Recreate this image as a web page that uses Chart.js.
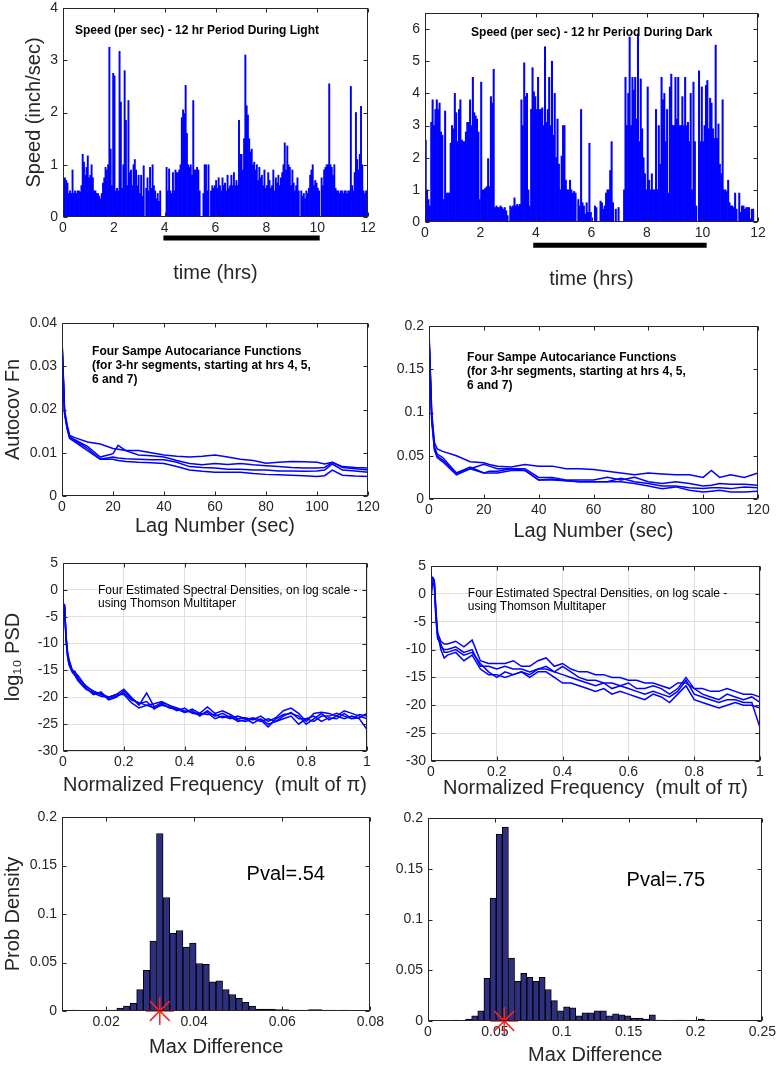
<!DOCTYPE html>
<html>
<head>
<meta charset="utf-8">
<script src="https://cdn.jsdelivr.net/npm/chart.js@4"></script>
<style>
    html, body { margin: 0; padding: 0; background: #fff; }
    body { width: 778px; height: 1066px; position: relative; overflow: hidden; }
    canvas { position: absolute; }
</style>
</head>
<body>
<canvas id="c1"></canvas>
<canvas id="c2"></canvas>
<canvas id="c3"></canvas>
<canvas id="c4"></canvas>
<canvas id="c5"></canvas>
<canvas id="c6"></canvas>
<canvas id="c7"></canvas>
<canvas id="c8"></canvas>
<script>
(function () {
    'use strict';

    // speed per 0.05 hr slot, 12 hr period
    const speedStep = 0.05;
    const speedLight = [
        0.2, 0.75, 0.7, 0.65, 0.45, 0.5, 0.45, 0.9, 0.45, 0.5, 0.45, 0.5, 0.5, 0.48, 0.6, 1.2, 1.05, 0.8, 0.95, 1.17,
        0.75, 0.8, 1.0, 0.75, 0.5, 0.5, 0.45, 0.45, 0.4, 0.35, 0.45, 0.65, 0.75, 0.95, 0.9, 1.0, 3.25, 1.3, 0.6, 2.75,
        2.7, 0.5, 0.55, 0.5, 3.17, 2.2, 0.55, 1.0, 2.8, 1.85, 0.6, 2.23, 0.85, 0.9, 0.6, 1.0, 1.1, 0.9, 0.6, 0.8,
        0.45, 0.8, 0.4, 0.98, 0, 0.55, 0.75, 0.5, 0.95, 0.55, 1.0, 0.6, 0.5, 0.35, 0.45, 0.3, 0.5, 0, 0, 0,
        0, 0.95, 0.5, 0.92, 0.5, 0.45, 0.85, 0.5, 0.9, 0.85, 0.85, 0.9, 1.0, 1.9, 2.05, 1.98, 2.52, 1.6, 1.0, 0.95,
        1.0, 0.8, 2.23, 0.9, 0.9, 0.95, 0.9, 0.5, 0, 0, 0.45, 1.0, 1.0, 0.5, 1.0, 0, 0.5, 0.6, 0.55, 0.6,
        0.7, 0.55, 0.75, 0.6, 0.5, 0.75, 0.6, 0.65, 0.5, 0.8, 0.55, 0.6, 0.8, 0.6, 0.85, 0.6, 0.7, 0.6, 1.85, 1.2,
        1.2, 0.9, 1.5, 3.1, 2.13, 1.95, 1.5, 1.25, 1.3, 1.0, 1.05, 0.9, 1.0, 0.7, 0.95, 0.75, 0.8, 0.6, 0.9, 0.55,
        0.6, 0.85, 0.7, 0.55, 0.6, 0.9, 0.5, 0.75, 0.65, 0.8, 0.6, 0.75, 0.85, 1.0, 1.42, 0.9, 1.36, 1.0, 0.95, 0.6,
        0.9, 0.65, 0.5, 0.6, 0.75, 0.5, 0, 0.5, 0.4, 0.45, 0.35, 0.5, 0.45, 0.55, 0.8, 0.9, 1.0, 0.6, 0.7, 0.65,
        0.55, 0.5, 0, 0.75, 0.6, 0.9, 0.95, 1.0, 1.0, 2.55, 1.0, 0.95, 0.8, 1.0, 0.55, 0.5, 0.5, 0.45, 0.5, 0.5,
        0.45, 0.5, 0.5, 0.45, 0.5, 0.5, 2.5, 0.6, 0.5, 0.85, 2.0, 1.1, 0.9, 1.2, 2.12, 1.0, 0.5, 0.45, 0.5, 0.5,
    ];
    const speedDark = [
        2.55, 1.0, 0.7, 0.5, 3.1, 3.8, 3.0, 3.5, 3.8, 3.5, 3.7, 2.8, 2.7, 0.7, 3.45, 0.9, 0.9, 0.9, 2.45, 3.0,
        2.9, 4.0, 3.4, 2.5, 3.5, 3.8, 2.55, 2.5, 2.5, 2.8, 3.1, 3.1, 3.8, 3.0, 4.5, 3.4, 3.3, 3.2, 2.8, 0.7,
        4.35, 1.0, 1.0, 1.05, 1.1, 1.97, 1.1, 3.9, 3.7, 4.75, 0.45, 0.5, 0.45, 0.45, 0.5, 0.45, 0.4, 0.45, 0.35, 0.2,
        0, 0.5, 0.45, 0.5, 0.75, 0.5, 0.55, 0.5, 0.55, 3.8, 3.0, 4.95, 3.9, 4.0, 1.0, 0.5, 3.5, 4.8, 4.05, 3.9,
        3.5, 4.5, 3.5, 3.5, 3.55, 3.0, 5.45, 3.1, 3.5, 4.5, 3.0, 5.0, 2.7, 4.0, 2.0, 3.2, 1.8, 1.0, 2.05, 3.0,
        3.0, 1.3, 1.0, 1.0, 1.3, 1.0, 0.9, 0.95, 0.9, 0, 0.7, 0.5, 3.5, 0.6, 0.5, 0.25, 0.6, 0.3, 2.45, 0.3,
        0, 0, 0.5, 0.45, 0, 0, 0.65, 0.6, 0.4, 0.5, 0.9, 1.0, 1.0, 1.6, 2.5, 0.6, 0, 0.4, 0, 0.45,
        0, 0, 0, 1.0, 4.5, 3.0, 4.0, 5.75, 3.0, 4.5, 4.1, 4.5, 3.2, 5.85, 2.5, 4.45, 2.9, 2.0, 1.5, 1.0,
        4.2, 1.3, 1.0, 1.5, 1.0, 1.0, 3.5, 1.0, 3.0, 1.8, 4.5, 3.8, 4.0, 2.5, 3.5, 0.9, 4.2, 4.6, 3.0, 3.0,
        4.5, 3.2, 4.5, 3.0, 3.0, 3.9, 3.0, 4.5, 3.0, 3.1, 2.5, 4.0, 1.0, 4.35, 2.5, 0.5, 0, 4.7, 2.5, 4.2,
        2.5, 3.0, 4.25, 4.4, 2.9, 3.85, 3.7, 2.9, 2.6, 5.5, 2.6, 3.05, 1.8, 1.5, 3.8, 1.0, 1.0, 0.95, 1.3, 0.6,
        0.5, 0.5, 0.45, 0.9, 0.4, 0, 0.9, 0.3, 0.5, 0.5, 0.4, 0.45, 0.45, 0.45, 0.1, 0.4, 0.4, 0, 0, 0,
    ];
    // segment marker under the time axis (hrs 4 to 10), drawn just below zero
    const lightSegment = [3.95, 10.1];
    const darkSegment = [3.9, 10.15];
    const lightSegmentLevel = -0.4;
    const darkSegmentLevel = -0.72;

    // autocovariance, four 3-hr segments
    const lags = [0, 1, 2, 3, 5, 10, 15, 20, 22, 25, 30, 35, 40, 45, 50, 55, 60, 65, 70, 75, 80, 85, 90, 95, 100, 103, 106, 110, 115, 120];
    const acLightA = [0.0365, 0.020, 0.0165, 0.0140, 0.0135, 0.0125, 0.0120, 0.0110, 0.0108, 0.0105, 0.0105, 0.0100, 0.0095, 0.0092, 0.0090, 0.0092, 0.0095, 0.0090, 0.0085, 0.0082, 0.0076, 0.0078, 0.0080, 0.0079, 0.0078, 0.0074, 0.0078, 0.0068, 0.0066, 0.0065];
    const acLightB = [0.0360, 0.0195, 0.0160, 0.0138, 0.0130, 0.0115, 0.0090, 0.0098, 0.0117, 0.0105, 0.0095, 0.0093, 0.0090, 0.0082, 0.0075, 0.0072, 0.0075, 0.0073, 0.0075, 0.0072, 0.0070, 0.0068, 0.0066, 0.0065, 0.0065, 0.0066, 0.0078, 0.0066, 0.0063, 0.0060];
    const acLightC = [0.0355, 0.0192, 0.0158, 0.0135, 0.0128, 0.0110, 0.0085, 0.0090, 0.0088, 0.0086, 0.0085, 0.0084, 0.0084, 0.0078, 0.0068, 0.0066, 0.0065, 0.0062, 0.0062, 0.0060, 0.0060, 0.0058, 0.0058, 0.0057, 0.0058, 0.0060, 0.0074, 0.0060, 0.0058, 0.0055];
    const acLightD = [0.0350, 0.0190, 0.0155, 0.0133, 0.0125, 0.0105, 0.0085, 0.0085, 0.0082, 0.0080, 0.0078, 0.0077, 0.0075, 0.0068, 0.0060, 0.0057, 0.0055, 0.0055, 0.0055, 0.0052, 0.0050, 0.0049, 0.0048, 0.0047, 0.0045, 0.0047, 0.0060, 0.0048, 0.0046, 0.0045];
    const acDarkA = [0.195, 0.100, 0.065, 0.058, 0.055, 0.050, 0.043, 0.042, 0.040, 0.038, 0.037, 0.040, 0.038, 0.038, 0.035, 0.035, 0.034, 0.032, 0.030, 0.028, 0.030, 0.029, 0.028, 0.028, 0.025, 0.033, 0.025, 0.028, 0.025, 0.030];
    const acDarkB = [0.190, 0.095, 0.060, 0.052, 0.048, 0.030, 0.035, 0.040, 0.038, 0.035, 0.035, 0.035, 0.025, 0.025, 0.022, 0.022, 0.022, 0.025, 0.022, 0.025, 0.020, 0.018, 0.020, 0.018, 0.015, 0.016, 0.018, 0.017, 0.017, 0.016];
    const acDarkC = [0.188, 0.092, 0.058, 0.050, 0.045, 0.030, 0.037, 0.030, 0.032, 0.032, 0.035, 0.033, 0.022, 0.023, 0.021, 0.020, 0.020, 0.020, 0.024, 0.020, 0.018, 0.015, 0.015, 0.013, 0.012, 0.013, 0.013, 0.012, 0.014, 0.013];
    const acDarkD = [0.185, 0.090, 0.056, 0.048, 0.043, 0.028, 0.035, 0.030, 0.030, 0.030, 0.033, 0.033, 0.022, 0.022, 0.021, 0.020, 0.020, 0.020, 0.020, 0.018, 0.015, 0.012, 0.014, 0.010, 0.008, 0.009, 0.010, 0.008, 0.008, 0.009];

    // log10 PSD, Thomson multitaper
    const freqs = [0, 0.005, 0.01, 0.015, 0.02, 0.03, 0.04, 0.05, 0.075, 0.1, 0.125, 0.15, 0.175, 0.2, 0.225, 0.25, 0.275, 0.3, 0.325, 0.35, 0.375, 0.4, 0.425, 0.45, 0.475, 0.5, 0.525, 0.55, 0.575, 0.6, 0.625, 0.65, 0.675, 0.7, 0.725, 0.75, 0.775, 0.8, 0.825, 0.85, 0.875, 0.9, 0.925, 0.95, 0.975, 1];
    const psdLightA = [-2.5, -2.8, -9, -12, -13.5, -15, -15.2, -16.5, -17.8, -19.0, -19.3, -20.0, -19.5, -18.5, -20.0, -21.5, -19.2, -21.8, -21.0, -21.5, -22.0, -22.5, -22.8, -23.0, -21.8, -23.0, -22.5, -23.2, -24.0, -23.8, -24.2, -23.5, -24.5, -23.8, -22.5, -22.0, -23.0, -24.5, -23.0, -22.8, -23.0, -23.5, -22.5, -23.0, -23.5, -24.0];
    const psdLightB = [-2.8, -3.0, -8.5, -11.5, -13.0, -14.8, -15.5, -16.0, -18.0, -18.8, -19.5, -20.2, -19.8, -19.2, -20.5, -21.0, -21.5, -21.2, -20.8, -21.5, -22.2, -22.8, -22.5, -23.5, -22.5, -23.5, -23.0, -23.8, -24.2, -24.5, -24.0, -24.5, -24.0, -24.5, -23.5, -22.8, -24.0, -24.0, -24.5, -23.5, -23.5, -23.0, -23.5, -24.0, -23.2, -23.5];
    const psdLightC = [-3.0, -3.2, -9.5, -12.5, -14.0, -15.3, -16.0, -17.0, -18.5, -19.2, -19.8, -20.0, -19.5, -19.5, -21.0, -22.0, -21.5, -22.0, -21.5, -21.8, -22.5, -22.0, -23.0, -23.2, -22.8, -24.0, -23.5, -24.0, -23.5, -24.0, -24.8, -24.0, -25.0, -24.5, -24.0, -23.5, -25.0, -24.0, -23.5, -24.5, -23.8, -24.0, -23.0, -24.0, -23.8, -23.0];
    const psdLightD = [-2.6, -2.9, -8.8, -12.2, -13.8, -15.0, -15.8, -16.8, -18.2, -19.5, -19.0, -20.5, -20.0, -18.8, -20.2, -21.2, -20.8, -22.2, -21.2, -22.0, -22.2, -22.8, -22.2, -23.0, -23.2, -23.2, -23.8, -23.5, -24.5, -24.2, -23.8, -24.2, -25.5, -24.0, -23.2, -23.0, -23.5, -25.0, -24.0, -23.0, -24.2, -23.5, -24.0, -23.5, -24.0, -26.0];
    const psdDarkA = [3.0, 3.0, 2.5, -3.0, -7.0, -8.5, -9.0, -9.0, -8.5, -9.5, -8.3, -12.0, -12.5, -12.5, -12.5, -12.0, -13.0, -13.0, -12.0, -11.5, -13.0, -12.5, -13.5, -14.0, -14.0, -14.5, -14.5, -15.0, -15.0, -15.5, -15.5, -16.0, -16.0, -16.5, -17.0, -16.0, -16.0, -17.0, -17.0, -17.5, -17.5, -17.0, -17.5, -18.0, -18.0, -18.5];
    const psdDarkB = [2.8, 2.9, 2.2, -4.0, -7.5, -9.5, -10.0, -10.0, -9.5, -10.5, -10.0, -13.0, -13.0, -13.5, -13.0, -13.5, -13.5, -14.0, -13.5, -13.5, -14.0, -13.0, -14.0, -15.0, -15.5, -15.5, -16.0, -16.0, -16.5, -16.0, -17.0, -17.0, -16.5, -17.0, -18.0, -17.0, -15.0, -17.0, -18.0, -18.5, -19.0, -18.0, -18.5, -19.0, -18.5, -19.5];
    const psdDarkC = [2.5, 2.5, 2.0, -3.5, -7.0, -10.0, -11.5, -11.0, -10.5, -12.0, -11.0, -13.5, -14.5, -14.5, -15.0, -14.5, -14.0, -15.0, -14.0, -14.0, -15.0, -16.0, -16.0, -16.5, -17.0, -17.5, -17.0, -18.0, -17.5, -18.0, -18.5, -19.0, -18.0, -18.5, -19.5, -18.0, -16.5, -19.0, -19.5, -20.0, -20.5, -20.0, -19.5, -20.0, -20.0, -20.5];
    const psdDarkD = [-1.0, 2.0, 1.5, -4.5, -8.0, -9.0, -10.5, -10.5, -10.0, -11.0, -10.5, -12.5, -14.0, -15.0, -14.0, -14.5, -14.0, -14.5, -13.5, -13.0, -14.0, -14.5, -15.0, -15.5, -16.0, -16.5, -16.0, -17.0, -16.5, -17.0, -17.5, -18.0, -17.5, -18.0, -18.5, -17.5, -15.5, -18.0, -18.5, -19.0, -19.5, -19.0, -19.0, -19.5, -19.5, -24.0];

    // permutation histograms of max difference
    const histLightFirst = 0.0127;
    const histLightWidth = 0.0015;
    const histLight = [0.001, 0.0005, 0, 0.0005, 0.0005, 0.001, 0.001, 0.003, 0.005, 0.008, 0.022, 0.042, 0.072,
        0.183, 0.117, 0.080, 0.083, 0.066, 0.070, 0.049, 0.048, 0.030, 0.031, 0.022, 0.017, 0.013, 0.009, 0.005,
        0.002, 0.002, 0.002, 0.0015, 0.0015, 0.001, 0.001, 0.001, 0.0015, 0.0015, 0.001, 0.001, 0, 0.001];
    const histDarkFirst = 0.0212;
    const histDarkWidth = 0.00458;
    const histDark = [0.001, 0, 0.002, 0.005, 0.010, 0.042, 0.121, 0.184, 0.191, 0.062, 0.039, 0.047, 0.043, 0.039,
        0.043, 0.031, 0.020, 0.010, 0.014, 0.013, 0.005, 0.008, 0.008, 0.010, 0.010, 0.005, 0.007, 0.006, 0.005,
        0.003, 0.003, 0.002, 0.006, 0.001, 0.001, 0, 0.001, 0.001, 0, 0.0005, 0.002];
    const observedLight = 0.0322;
    const observedDark = 0.057;

    const INK = '#262626';
    const BLUE = '#0000ff';
    const HIST = '#2f2f80';

    Chart.defaults.font.family = "'Liberation Sans', Arial, Helvetica, sans-serif";
    Chart.defaults.color = INK;

    function pairs(xs, ys) {
        return ys.map((y, i) => ({ x: xs[i], y: y }));
    }

    function binned(first, step, ys) {
        return ys.map((y, i) => ({ x: first + i * step, y: y }));
    }

    function frame() {
        return {
            id: 'frame',
            afterDatasetsDraw(chart) {
                const { ctx, chartArea: a, scales } = chart;
                const l = Math.round(a.left) + 0.5;
                const r = Math.round(a.right) - 0.5;
                const t = Math.round(a.top) + 0.5;
                const b = Math.round(a.bottom) - 0.5;
                ctx.save();
                ctx.strokeStyle = INK;
                ctx.lineWidth = 1;
                ctx.strokeRect(l, t, r - l, b - t);
                ctx.beginPath();
                scales.x.ticks.forEach((tk) => {
                    const px = Math.round(scales.x.getPixelForValue(tk.value)) + 0.5;
                    ctx.moveTo(px, b); ctx.lineTo(px, b - 4);
                    ctx.moveTo(px, t); ctx.lineTo(px, t + 4);
                });
                scales.y.ticks.forEach((tk) => {
                    const py = Math.round(scales.y.getPixelForValue(tk.value)) + 0.5;
                    ctx.moveTo(l, py); ctx.lineTo(l + 4, py);
                    ctx.moveTo(r, py); ctx.lineTo(r - 4, py);
                });
                ctx.stroke();
                ctx.restore();
            },
        };
    }

    function notes(items) {
        return {
            id: 'notes',
            afterDraw(chart) {
                const { ctx, scales } = chart;
                items.forEach((n) => {
                    ctx.save();
                    ctx.font = n.font;
                    ctx.fillStyle = '#000';
                    ctx.textAlign = 'left';
                    ctx.textBaseline = 'alphabetic';
                    const px = scales.x.getPixelForValue(n.x);
                    const py = scales.y.getPixelForValue(n.y);
                    n.lines.forEach((s, i) => ctx.fillText(s, px, py + i * n.lh));
                    ctx.restore();
                });
            },
        };
    }

    function axis(o) {
        return {
            type: 'linear',
            min: o.min,
            max: o.max,
            offset: false,
            border: { display: false },
            grid: { display: !!o.grid, color: '#e0e0e0', drawTicks: false, offset: false },
            ticks: {
                stepSize: o.step,
                includeBounds: false,
                autoSkip: false,
                maxRotation: 0,
                padding: o.pad,
                color: INK,
                font: { size: 14 },
                callback: (v) => String(+Number(v).toFixed(6)),
            },
            title: {
                display: !!o.title,
                text: o.title || '',
                color: INK,
                font: { size: 20 },
                padding: 0,
            },
            afterFit: o.fit,
        };
    }

    function panel(id, box, type, datasets, xs, ys, items) {
        const [L, T, R, B] = box.plot;
        const cL = box.yTitleX != null ? Math.round(box.yTitleX - 12) : L - 48;
        const cT = T - 22;
        const cR = R + 16;
        const cB = Math.round(box.xTitleY + 12);
        const canvas = document.getElementById(id);
        canvas.width = cR - cL;
        canvas.height = cB - cT;
        canvas.style.left = cL + 'px';
        canvas.style.top = cT + 'px';

        xs.pad = 3;
        xs.fit = (s) => { s.height = cB - B; };
        ys.pad = 5;
        ys.fit = (s) => { s.width = L - cL; };

        new Chart(canvas, {
            type: type,
            data: { datasets: datasets },
            options: {
                responsive: false,
                animation: false,
                events: [],
                layout: { padding: { left: 0, top: T - cT, right: cR - R, bottom: 0 } },
                plugins: { legend: { display: false }, tooltip: { enabled: false } },
                scales: { x: axis(xs), y: axis(ys) },
            },
            plugins: [frame(), notes(items || [])],
        });
    }

    function speedSet(values) {
        return {
            type: 'bar',
            data: binned(speedStep / 2, speedStep, values),
            backgroundColor: BLUE,
            borderWidth: 0,
            barPercentage: 1,
            categoryPercentage: 1,
        };
    }

    function segmentSet(range, level) {
        return {
            type: 'line',
            data: range.map((h) => ({ x: h, y: level })),
            borderColor: '#000',
            borderWidth: 5,
            borderCapStyle: 'butt',
            pointRadius: 0,
            clip: false,
        };
    }

    function lineSet(xs, ys) {
        return {
            type: 'line',
            data: pairs(xs, ys),
            borderColor: BLUE,
            borderWidth: 1.5,
            pointRadius: 0,
            tension: 0,
        };
    }

    function histSet(first, step, values) {
        return {
            type: 'bar',
            data: binned(first, step, values),
            backgroundColor: HIST,
            borderColor: '#000',
            borderWidth: 1,
            barPercentage: 1,
            categoryPercentage: 1,
        };
    }

    function starSet(x) {
        return {
            type: 'line',
            data: [{ x: x, y: 0 }],
            showLine: false,
            pointStyle: 'star',
            pointRadius: 14,
            pointBorderColor: '#ff2020',
            pointBorderWidth: 1.5,
            clip: false,
        };
    }

    const boldNote = "bold 12px 'Liberation Sans', Arial, sans-serif";
    const plainNote = "12px 'Liberation Sans', Arial, sans-serif";
    const pvalNote = "20px 'Liberation Sans', Arial, sans-serif";

    panel('c1', { plot: [63, 8, 368, 217], yTitleX: 34, xTitleY: 273 }, 'bar',
        [segmentSet(lightSegment, lightSegmentLevel), speedSet(speedLight)],
        { min: 0, max: 12, step: 2, title: 'time (hrs)' },
        { min: 0, max: 4, step: 1, title: 'Speed (inch/sec)' },
        [{ x: 0.47, y: 3.5, lh: 14, font: boldNote, lines: ['Speed (per sec) - 12 hr Period During Light'] }]);

    panel('c2', { plot: [425, 13, 758, 222], yTitleX: null, xTitleY: 279 }, 'bar',
        [segmentSet(darkSegment, darkSegmentLevel), speedSet(speedDark)],
        { min: 0, max: 12, step: 2, title: 'time (hrs)' },
        { min: 0, max: 6.5, step: 1 },
        [{ x: 1.66, y: 5.79, lh: 14, font: boldNote, lines: ['Speed (per sec) - 12 hr Period During Dark'] }]);

    const acNote = ['Four Sampe Autocariance Functions', '(for 3-hr segments, starting at hrs 4, 5,', '6 and 7)'];

    panel('c3', { plot: [62, 323, 368, 496], yTitleX: 13, xTitleY: 526 }, 'line',
        [lineSet(lags, acLightA), lineSet(lags, acLightB), lineSet(lags, acLightC), lineSet(lags, acLightD)],
        { min: 0, max: 120, step: 20, title: 'Lag Number (sec)' },
        { min: 0, max: 0.04, step: 0.01, title: 'Autocov Fn' },
        [{ x: 11.8, y: 0.0326, lh: 14, font: boldNote, lines: acNote }]);

    panel('c4', { plot: [429, 326, 758, 499], yTitleX: null, xTitleY: 531 }, 'line',
        [lineSet(lags, acDarkA), lineSet(lags, acDarkB), lineSet(lags, acDarkC), lineSet(lags, acDarkD)],
        { min: 0, max: 120, step: 20, title: 'Lag Number (sec)' },
        { min: 0, max: 0.2, step: 0.05 },
        [{ x: 13.9, y: 0.1595, lh: 14, font: boldNote, lines: acNote }]);

    const psdNote = ['Four Estimated Spectral Densities, on log scale -', 'using Thomson Multitaper'];

    panel('c5', { plot: [63, 563, 367, 751], yTitleX: 13, xTitleY: 785 }, 'line',
        [lineSet(freqs, psdLightA), lineSet(freqs, psdLightB), lineSet(freqs, psdLightC), lineSet(freqs, psdLightD)],
        { min: 0, max: 1, step: 0.2, grid: true, title: 'Normalized Frequency  (mult of \u03c0)' },
        { min: -30, max: 5, step: 5, grid: true, title: 'log\u2081\u2080 PSD' },
        [{ x: 0.115, y: -0.77, lh: 13, font: plainNote, lines: psdNote }]);

    panel('c6', { plot: [431, 566, 760, 761], yTitleX: null, xTitleY: 788 }, 'line',
        [lineSet(freqs, psdDarkA), lineSet(freqs, psdDarkB), lineSet(freqs, psdDarkC), lineSet(freqs, psdDarkD)],
        { min: 0, max: 1, step: 0.2, grid: true, title: 'Normalized Frequency  (mult of \u03c0)' },
        { min: -30, max: 5, step: 5, grid: true },
        [{ x: 0.112, y: -0.56, lh: 13, font: plainNote, lines: psdNote }]);

    panel('c7', { plot: [62, 817, 371, 1011], yTitleX: 12.5, xTitleY: 1047 }, 'bar',
        [starSet(observedLight), histSet(histLightFirst, histLightWidth, histLight)],
        { min: 0.01, max: 0.08, step: 0.02, title: 'Max Difference' },
        { min: 0, max: 0.2, step: 0.05, title: 'Prob Density' },
        [{ x: 0.0519, y: 0.135, lh: 20, font: pvalNote, lines: ['Pval=.54'] }]);

    panel('c8', { plot: [428, 818, 763, 1021], yTitleX: null, xTitleY: 1055 }, 'bar',
        [starSet(observedDark), histSet(histDarkFirst, histDarkWidth, histDark)],
        { min: 0, max: 0.25, step: 0.05, title: 'Max Difference' },
        { min: 0, max: 0.2, step: 0.05 },
        [{ x: 0.1485, y: 0.133, lh: 20, font: pvalNote, lines: ['Pval=.75'] }]);
})();
</script>
</body>
</html>
